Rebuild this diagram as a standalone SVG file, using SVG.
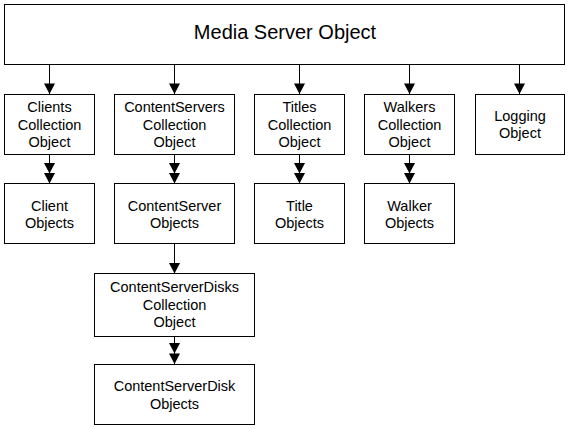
<svg xmlns="http://www.w3.org/2000/svg" width="569" height="429" viewBox="0 0 569 429">
<style>
.box{fill:#fff;stroke:#000;stroke-width:1}
.t{font-family:"Liberation Sans",Arial,sans-serif;font-size:14.5px;fill:#000;text-anchor:middle}
.title{font-family:"Liberation Sans",Arial,sans-serif;font-size:20px;fill:#000;text-anchor:middle}
.ln{stroke:#000;stroke-width:1;fill:none}
</style>
<defs>
<path id="ah" d="M-5.5,-10.5 L5.5,-10.5 L0,0 Z" fill="#000"/>
</defs>
<rect width="569" height="429" fill="#fff"/>
<g id="connectors">
<path class="ln" d="M49.5,64.5V94M174.5,64.5V94M299.5,64.5V94M409.5,64.5V94M519.5,64.5V94"/>
<use href="#ah" x="49.5" y="94"/><use href="#ah" x="174.5" y="94"/><use href="#ah" x="299.5" y="94"/><use href="#ah" x="409.5" y="94"/><use href="#ah" x="519.5" y="94"/>
<path class="ln" d="M49.5,154.5V183M174.5,154.5V183M299.5,154.5V183M409.5,154.5V183"/>
<use href="#ah" x="49.5" y="173.5"/><use href="#ah" x="49.5" y="183.5"/>
<use href="#ah" x="174.5" y="173.5"/><use href="#ah" x="174.5" y="183.5"/>
<use href="#ah" x="299.5" y="173.5"/><use href="#ah" x="299.5" y="183.5"/>
<use href="#ah" x="409.5" y="173.5"/><use href="#ah" x="409.5" y="183.5"/>
<path class="ln" d="M174.5,243.5V273M174.5,336.5V364"/>
<use href="#ah" x="174.5" y="273.5"/>
<use href="#ah" x="174.5" y="353.5"/><use href="#ah" x="174.5" y="364"/>
</g>
<g id="media-server"><rect class="box" x="4.5" y="4.5" width="560" height="60"/><text class="title" x="285" y="39">Media Server Object</text></g>
<g id="clients-collection"><rect class="box" x="4.5" y="94.5" width="90" height="60"/><text class="t" x="49.5" y="111.5">Clients</text><text class="t" x="49.5" y="129.5">Collection</text><text class="t" x="49.5" y="147">Object</text></g>
<g id="contentservers-collection"><rect class="box" x="114.5" y="94.5" width="120" height="60"/><text class="t" x="174.5" y="111.5">ContentServers</text><text class="t" x="174.5" y="129.5">Collection</text><text class="t" x="174.5" y="147">Object</text></g>
<g id="titles-collection"><rect class="box" x="254.5" y="94.5" width="90" height="60"/><text class="t" x="299.5" y="111.5">Titles</text><text class="t" x="299.5" y="129.5">Collection</text><text class="t" x="299.5" y="147">Object</text></g>
<g id="walkers-collection"><rect class="box" x="364.5" y="94.5" width="90" height="60"/><text class="t" x="409.5" y="111.5">Walkers</text><text class="t" x="409.5" y="129.5">Collection</text><text class="t" x="409.5" y="147">Object</text></g>
<g id="logging"><rect class="box" x="475.5" y="94.5" width="89" height="60"/><text class="t" x="520" y="120.5">Logging</text><text class="t" x="520" y="138">Object</text></g>
<g id="client-objects"><rect class="box" x="4.5" y="183.5" width="90" height="60"/><text class="t" x="49.5" y="210.5">Client</text><text class="t" x="49.5" y="228">Objects</text></g>
<g id="contentserver-objects"><rect class="box" x="114.5" y="183.5" width="120" height="60"/><text class="t" x="174.5" y="210.5">ContentServer</text><text class="t" x="174.5" y="228">Objects</text></g>
<g id="title-objects"><rect class="box" x="254.5" y="183.5" width="90" height="60"/><text class="t" x="299.5" y="210.5">Title</text><text class="t" x="299.5" y="228">Objects</text></g>
<g id="walker-objects"><rect class="box" x="364.5" y="183.5" width="90" height="60"/><text class="t" x="409.5" y="210.5">Walker</text><text class="t" x="409.5" y="228">Objects</text></g>
<g id="contentserverdisks-collection"><rect class="box" x="94.5" y="273.5" width="160" height="63"/><text class="t" x="174.5" y="291.5">ContentServerDisks</text><text class="t" x="174.5" y="309.5">Collection</text><text class="t" x="174.5" y="327">Object</text></g>
<g id="contentserverdisk-objects"><rect class="box" x="94.5" y="364.5" width="160" height="60"/><text class="t" x="174.5" y="391">ContentServerDisk</text><text class="t" x="174.5" y="408.5">Objects</text></g>
</svg>
